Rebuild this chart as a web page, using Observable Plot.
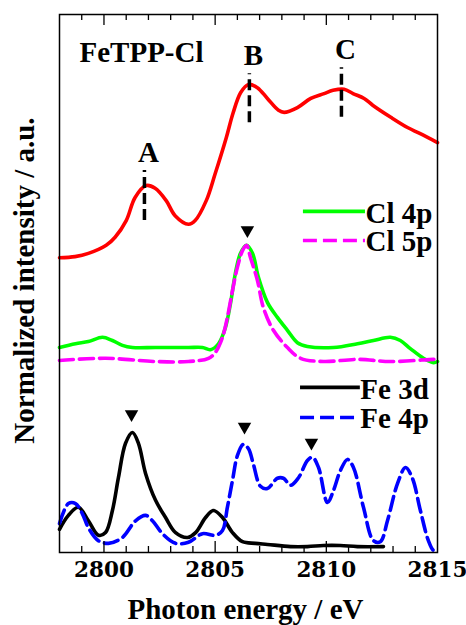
<!DOCTYPE html>
<html lang="en">
<head>
<meta charset="utf-8">
<script src="https://cdn.jsdelivr.net/npm/d3@7"></script>
<script src="https://cdn.jsdelivr.net/npm/@observablehq/plot@0.6"></script>
<style>
  html, body { margin: 0; padding: 0; background: #fff; }
  #chart svg { display: block; }
</style>
</head>
<body>
<div id="chart"></div>
<script>
// ---- Data (photon energy in eV, intensity in arbitrary offset units) ----
const redE = [2798.0, 2798.7, 2799.3, 2800.1, 2800.5, 2801.0, 2801.4, 2801.9, 2802.3, 2802.8, 2803.2, 2803.8, 2804.1, 2804.6, 2805.0, 2805.5, 2805.8, 2806.15, 2806.5, 2806.9, 2807.35, 2807.85, 2808.1, 2808.7, 2809.3, 2809.9, 2810.3, 2810.8, 2811.2, 2811.7, 2812.1, 2812.9, 2813.65, 2814.2, 2815.0];
const redV = [54.8, 55.0, 55.6, 57.1, 58.6, 61.7, 66.0, 68.2, 67.7, 65.4, 62.6, 61.0, 61.7, 65.4, 70.4, 77.1, 81.6, 85.5, 87.0, 86.4, 84.4, 82.2, 81.8, 82.7, 84.4, 85.3, 85.9, 86.1, 85.3, 84.4, 83.1, 80.9, 79.0, 77.9, 76.2];

const cl4pE = [2798.0, 2798.72, 2799.3, 2799.93, 2800.38, 2800.83, 2801.28, 2802.32, 2803.8, 2804.43, 2804.79, 2805.15, 2805.46, 2805.69, 2805.91, 2806.14, 2806.41, 2806.68, 2806.95, 2807.35, 2807.8, 2808.25, 2808.7, 2809.15, 2810.32, 2811.4, 2812.12, 2812.88, 2813.33, 2813.78, 2814.37, 2814.82, 2815.0];
const cl4pV = [38.1, 38.8, 39.2, 40.0, 39.4, 38.5, 38.1, 38.1, 38.1, 38.1, 37.7, 38.8, 41.8, 46.3, 51.9, 55.6, 57.1, 55.6, 51.1, 46.5, 43.7, 41.3, 39.0, 38.3, 38.1, 38.8, 39.4, 40.0, 39.4, 37.9, 36.1, 35.3, 35.5];

const cl5pE = [2798.0, 2800.07, 2802.32, 2803.8, 2804.7, 2805.01, 2805.33, 2805.55, 2805.78, 2806.0, 2806.23, 2806.41, 2806.59, 2806.9, 2807.17, 2807.62, 2808.25, 2808.84, 2809.87, 2811.4, 2812.88, 2814.82, 2815.0];
const cl5pV = [35.7, 36.1, 35.5, 35.5, 36.1, 37.2, 40.0, 43.7, 48.7, 53.0, 56.1, 57.1, 54.8, 50.6, 45.5, 41.3, 38.1, 36.1, 35.5, 35.9, 35.5, 35.9, 35.9];

const fe3dE = [2798.0, 2798.4, 2798.85, 2799.3, 2799.75, 2800.07, 2800.38, 2800.65, 2800.97, 2801.28, 2801.55, 2801.87, 2802.32, 2802.77, 2803.22, 2803.76, 2804.12, 2804.57, 2804.92, 2805.33, 2805.78, 2806.23, 2806.81, 2807.35, 2808.39, 2809.15, 2809.87, 2810.63, 2811.4, 2812.57];
const fe3dV = [4.3, 6.9, 8.4, 5.9, 3.2, 3.7, 7.8, 13.9, 20.3, 22.3, 20.3, 14.7, 9.7, 6.5, 3.7, 2.8, 3.7, 6.5, 7.8, 6.5, 3.7, 2.0, 1.7, 1.5, 1.1, 1.1, 1.3, 1.3, 1.1, 1.1];

const fe4pE = [2798.0, 2798.4, 2798.72, 2799.03, 2799.3, 2799.75, 2800.2, 2800.83, 2801.42, 2801.87, 2802.18, 2802.63, 2803.22, 2803.8, 2804.43, 2805.01, 2805.33, 2805.55, 2805.78, 2806.0, 2806.27, 2806.5, 2806.72, 2807.04, 2807.35, 2807.8, 2808.07, 2808.39, 2808.75, 2809.15, 2809.38, 2809.65, 2810.05, 2810.32, 2810.63, 2810.95, 2811.22, 2811.67, 2812.12, 2812.43, 2812.75, 2813.2, 2813.56, 2813.87, 2814.23, 2814.59, 2814.82, 2815.0];
const fe4pV = [5.4, 9.1, 9.1, 7.2, 4.6, 2.2, 1.7, 2.8, 5.9, 6.9, 5.9, 3.5, 1.7, 1.9, 3.5, 3.2, 4.1, 8.4, 13.4, 18.0, 20.1, 19.3, 16.4, 12.3, 11.9, 13.8, 13.8, 12.5, 13.9, 17.1, 17.7, 15.8, 9.3, 11.5, 15.2, 17.3, 15.8, 8.4, 2.2, 2.0, 5.9, 12.8, 15.8, 13.8, 7.8, 2.2, 0.4, 0.6];

// Feature labels A, B, C (energy, lower/upper end of the dashed guide)
const featureLabels = ["A", "B", "C"];
const featureE = [2801.82, 2806.54, 2810.68];
const featureLow = [61.7, 79.9, 80.9];
const featureHigh = [71.0, 89.0, 90.1];

// Peak triangles
const peakE = [2806.45, 2801.24, 2806.32, 2809.33];
const peakV = [59.9, 25.7, 23.4, 20.4];

// Axis ticks
const xTickLabels = ["2800", "2805", "2810", "2815"];
const xMajorTicks = [2800, 2805, 2810];
const xMinorTicks = [2799, 2801, 2802, 2803, 2804, 2806, 2807, 2808, 2809, 2811, 2812, 2813, 2814];

const legendLabels = ["Cl 4p", "Cl 5p", "Fe 3d", "Fe 4p"];
const sampleName = "FeTPP-Cl";
const xLabel = "Photon energy / eV";
const yLabel = "Normalized intensity / a.u.";

// ---- Build series ----
const zip = (E, V) => E.map((e, i) => ({e, v: V[i]}));
const series = [
  {data: zip(redE, redV), stroke: "#ff0000", dash: null},
  {data: zip(cl4pE, cl4pV), stroke: "#00ff00", dash: null},
  {data: zip(cl5pE, cl5pV), stroke: "#ff00ff", dash: "14,6"},
  {data: zip(fe3dE, fe3dV), stroke: "#000000", dash: null},
  {data: zip(fe4pE, fe4pV), stroke: "#0000ff", dash: "14,6"}
];

const features = featureLabels.map((t, i) => ({t, e: featureE[i], lo: featureLow[i], hi: featureHigh[i]}));
const peaks = peakE.map((e, i) => ({e, v: peakV[i]}));
const tickLabelRows = xTickLabels.map(t => ({t, e: +t}));

// Legend layout (in plot units)
const legendLayout = [
  {label: legendLabels[0], stroke: "#00ff00", dash: null, x1: 2808.97, x2: 2811.76, y: 63.4, dy: 2},
  {label: legendLabels[1], stroke: "#ff00ff", dash: "14,6", x1: 2808.97, x2: 2811.76, y: 58.0, dy: 1},
  {label: legendLabels[2], stroke: "#000000", dash: null, x1: 2808.84, x2: 2811.53, y: 30.7, dy: 2},
  {label: legendLabels[3], stroke: "#0000ff", dash: "14,6", x1: 2808.84, x2: 2811.53, y: 25.1, dy: 1}
];

const W = 466, H = 625, mT = 14, mB = 73, mL = 59, mR = 29;
const innerH = H - mT - mB;
const fontFamily = "Liberation Serif";
const txt = {fontSize: 29, fontWeight: "bold", fontFamily, fill: "black"};

const marks = [];
for (const s of series) {
  marks.push(Plot.line(s.data, {x: "e", y: "v", stroke: s.stroke, strokeWidth: 3.6, curve: "catmull-rom", strokeDasharray: s.dash ?? undefined, strokeLinejoin: "round"}));
}
// legend
for (const L of legendLayout) {
  marks.push(Plot.ruleY([L.y], {x1: L.x1, x2: L.x2, stroke: L.stroke, strokeWidth: 3.6, strokeDasharray: L.dash ?? undefined}));
  marks.push(Plot.text([L.label], {x: L.x2, y: L.y, text: d => d, textAnchor: "start", dy: L.dy, ...txt}));
}
// feature guides
marks.push(Plot.ruleX(features, {x: "e", y1: "lo", y2: "hi", stroke: "black", strokeWidth: 3.5, strokeDasharray: "11,5"}));
marks.push(Plot.text(features, {x: "e", y: "hi", text: "t", lineAnchor: "bottom", textAnchor: "middle", dx: 4, dy: -9, ...txt}));
// peak triangles
marks.push(Plot.dot(peaks, {x: "e", y: "v", symbol: "triangle", rotate: 180, r: 5, fill: "black", stroke: "none"}));
// sample name
marks.push(Plot.text([sampleName], {text: d => d, frameAnchor: "top-left", textAnchor: "start", lineAnchor: "bottom", dx: 20, dy: 47, ...txt}));
// ticks (inward)
marks.push(Plot.tickX(xMinorTicks, {x: d => d, insetTop: innerH - 6, stroke: "black", strokeWidth: 1.3}));
marks.push(Plot.tickX(xMinorTicks, {x: d => d, insetBottom: innerH - 6, stroke: "black", strokeWidth: 1.3}));
marks.push(Plot.tickX(xMajorTicks, {x: d => d, insetTop: innerH - 11, stroke: "black", strokeWidth: 1.3}));
marks.push(Plot.tickX(xMajorTicks, {x: d => d, insetBottom: innerH - 11, stroke: "black", strokeWidth: 1.3}));
// tick labels and axis titles
marks.push(Plot.text(tickLabelRows, {x: "e", y: 0, text: "t", lineAnchor: "top", textAnchor: "middle", dy: 9, fill: "black", fontSize: 21.5, fontWeight: "bold", fontFamily: "DejaVu Serif"}));
marks.push(Plot.text([xLabel], {text: d => d, frameAnchor: "bottom", lineAnchor: "bottom", textAnchor: "middle", dx: -3, dy: 66, ...txt}));
marks.push(Plot.text([yLabel], {text: d => d, frameAnchor: "left", rotate: -90, lineAnchor: "bottom", textAnchor: "middle", dx: -26, dy: -3, ...txt}));
marks.push(Plot.frame({stroke: "black", strokeWidth: 1.5}));

const chart = Plot.plot({
  width: W,
  height: H,
  marginTop: mT,
  marginBottom: mB,
  marginLeft: mL,
  marginRight: mR,
  x: {domain: [2798, 2815], axis: null},
  y: {domain: [0, 100], axis: null},
  style: {fontFamily, fontSize: "29px", fontWeight: "bold", background: "white", color: "black", overflow: "visible"},
  marks
});
document.getElementById("chart").appendChild(chart);
</script>
</body>
</html>
